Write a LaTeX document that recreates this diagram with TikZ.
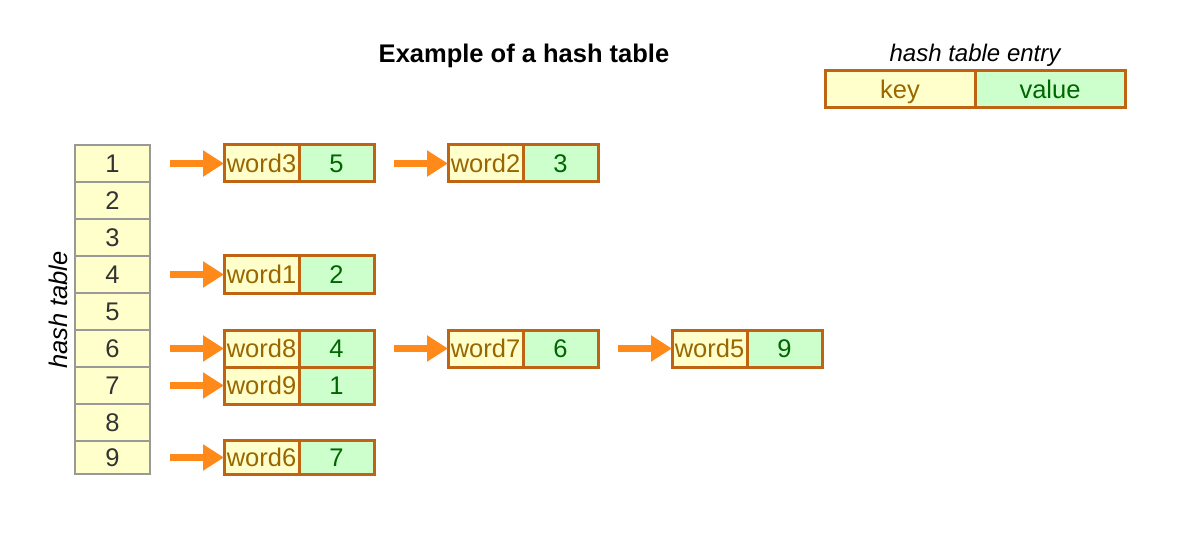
\documentclass[tikz,border=0pt]{standalone}
\usepackage{fontspec}
\setmainfont{Liberation Sans}
\usetikzlibrary{positioning, arrows.meta}
\definecolor{cellfill}{HTML}{FFFFCC}
\definecolor{valfill}{HTML}{CCFFCC}
\definecolor{cellline}{HTML}{999999}
\definecolor{entryline}{HTML}{BF6412}
\definecolor{keytext}{HTML}{996600}
\definecolor{valtext}{HTML}{006600}
\definecolor{arroworange}{HTML}{FF8A1A}
\tikzstyle{cell} = [rectangle, minimum width=75pt, minimum height=37pt, inner sep=0pt, outer sep=0pt, text centered, text height=18pt, text depth=0pt, draw=cellline, line width=2pt, fill=cellfill, text=black!80]
\tikzstyle{keybox} = [rectangle, minimum width=75pt, minimum height=37pt, inner sep=0pt, outer sep=0pt, text centered, text height=18pt, text depth=0pt, draw=entryline, line width=3pt, fill=cellfill, text=keytext]
\tikzstyle{valbox} = [keybox, fill=valfill, text=valtext]
\tikzstyle{arrow} = [line width=7.5pt, draw=arroworange, -{Triangle[length=21pt, width=25pt]}]

\begin{document}
\begin{tikzpicture}[x=1pt, y=-1pt, font=\fontsize{25.5}{30}\selectfont]
\useasboundingbox (0,0) rectangle (1204,545);

\node (title) at (524,56) {\bfseries Example of a hash table};
\node (entrylabel) at (975,55) {\fontsize{24}{28}\selectfont\itshape hash table entry};
\node (legkey) [keybox, minimum width=150pt] at (900,89.5) {key};
\node (legval) [valbox, minimum width=150pt, right=0pt of legkey] {value};

% the table
\node (tablelabel) [rotate=90] at (58,310) {\itshape hash table};
\foreach \i in {1,...,8}
  \node (t\i) [cell] at (112.5,163.5+37*\i-37) {\i};
\node (t9) [cell, minimum height=33pt, below=0pt of t8] {9};

% the entries
\node (k3) [keybox, right=74pt of t1] {word3};
\node (v3) [valbox, right=0pt of k3] {5};
\node (k2) [keybox, right=74pt of v3] {word2};
\node (v2) [valbox, right=0pt of k2] {3};
\node (k1) [keybox, right=74pt of t4] {word1};
\node (v1) [valbox, right=0pt of k1] {2};
\node (k8) [keybox, right=74pt of t6] {word8};
\node (v8) [valbox, right=0pt of k8] {4};
\node (k7) [keybox, right=74pt of v8] {word7};
\node (v7) [valbox, right=0pt of k7] {6};
\node (k5) [keybox, right=74pt of v7] {word5};
\node (v5) [valbox, right=0pt of k5] {9};
\node (k9) [keybox, right=74pt of t7] {word9};
\node (v9) [valbox, right=0pt of k9] {1};
\node (k6) [keybox, minimum height=34pt, right=74pt of t9] {word6};
\node (v6) [valbox, minimum height=34pt, right=0pt of k6] {7};

\draw [arrow] ([xshift=20pt]t1.east) -- (k3.west);
\draw [arrow] ([xshift=20pt]v3.east) -- (k2.west);
\draw [arrow] ([xshift=20pt]t4.east) -- (k1.west);
\draw [arrow] ([xshift=20pt]t6.east) -- (k8.west);
\draw [arrow] ([xshift=20pt]v8.east) -- (k7.west);
\draw [arrow] ([xshift=20pt]v7.east) -- (k5.west);
\draw [arrow] ([xshift=20pt]t7.east) -- (k9.west);
\draw [arrow] ([xshift=20pt]t9.east) -- (k6.west);
\end{tikzpicture}
\end{document}
